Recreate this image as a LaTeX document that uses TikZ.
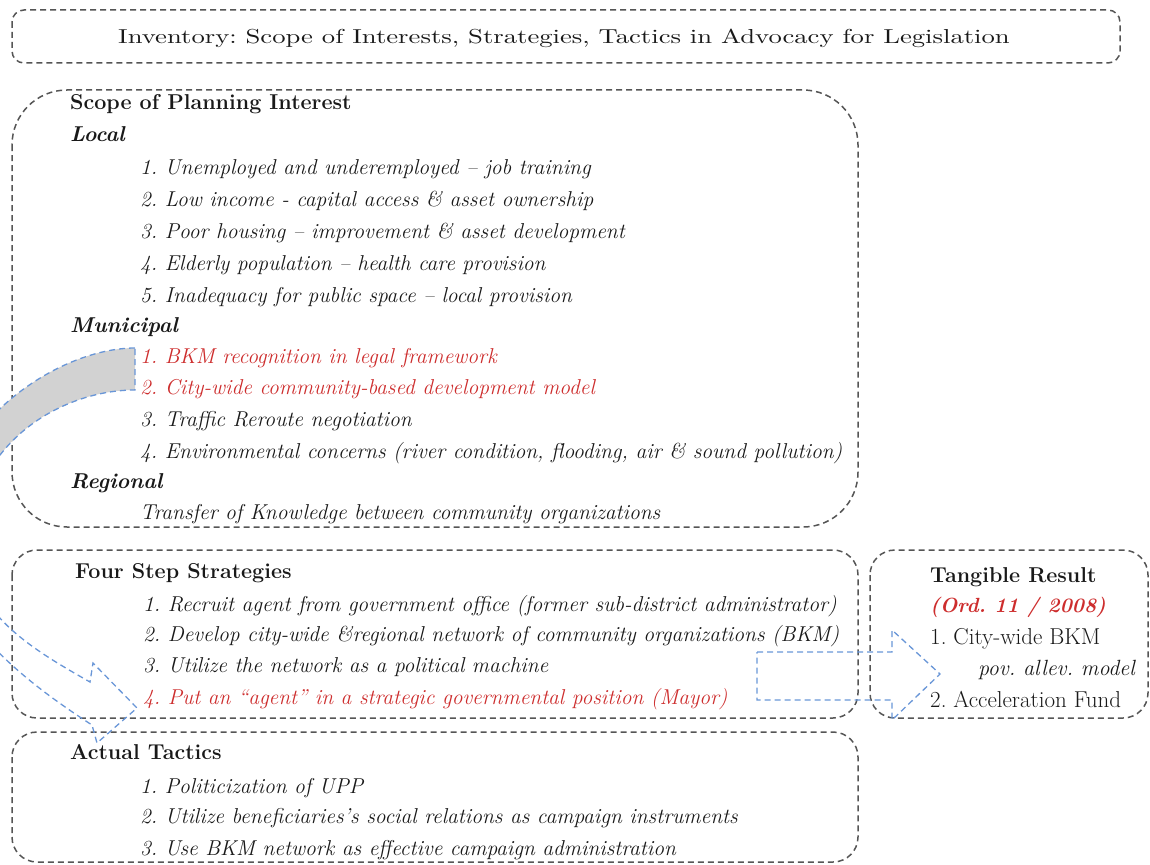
\documentclass[tikz,border=0pt]{standalone}
\usepackage{fontspec}
\usepackage{tikz}
\newfontfamily\titlefont{lmroman10-regular}[Extension=.otf, FakeStretch=1.32]
\definecolor{boxgray}{RGB}{85,85,85}
\definecolor{hotred}{RGB}{205,45,45}
\definecolor{arrowblue}{RGB}{105,150,215}
\definecolor{arrowfill}{RGB}{210,210,210}
\frenchspacing

\begin{document}
\begin{tikzpicture}[x=1pt, y=-1pt,
  every node/.style={font=\fontsize{23}{27}\selectfont, inner sep=0pt, anchor=base west, text=black!90},
  frame/.style={draw=boxgray, line width=1.5pt, dash pattern=on 6pt off 4pt},
  blockarrow/.style={draw=arrowblue, line width=1.3pt, dash pattern=on 6pt off 4pt},
  head/.style={font=\fontsize{21.5}{25}\selectfont\bfseries},
  sub/.style={font=\fontsize{21.5}{25}\selectfont\bfseries\itshape},
  item/.style={font=\fontsize{21.5}{25}\selectfont\itshape},
  hot/.style={item, text=hotred}]
  \useasboundingbox (0,0) rectangle (1150,864);
  \clip (0,0) rectangle (1150,864);

  % Frames
  \draw[frame, rounded corners=12pt] (12,10) rectangle (1120,63);
  \draw[frame, rounded corners=55pt] (12,90) rectangle (858,527);
  \draw[frame, rounded corners=25pt] (12,550) rectangle (858,718);
  \draw[frame, rounded corners=25pt] (12,732) rectangle (858,862);
  \draw[frame, rounded corners=25pt] (870,550) rectangle (1148,718);

  % Curved arrow from municipal items down to the tactics
  \fill[arrowfill] (135,348) .. controls (60,348) and (-50,420) .. (-60,525)
    -- (-30,545) .. controls (-30,445) and (60,390) .. (135,390) -- cycle;
  \draw[blockarrow] (135,348) .. controls (60,348) and (-50,420) .. (-60,525)
    .. controls (-62,610) and (10,672) .. (92,725) -- (97,743) -- (137,708)
    -- (93,663) -- (90,682) .. controls (30,648) and (-30,612) .. (-30,545)
    .. controls (-30,445) and (60,390) .. (135,390) -- cycle;

  % Block arrow to the result
  \draw[blockarrow] (757,652) -- (892,652) -- (892,630) -- (940,674)
    -- (892,720) -- (892,700) -- (757,700) -- cycle;

  % Title
  \node[anchor=base, font=\titlefont\fontsize{20.2}{24}\selectfont] (title) at (564,44)
    {Inventory: Scope of Interests, Strategies, Tactics in Advocacy for Legislation};

  % Scope of planning interest
  \node[head] (scope) at (70,110) {Scope of Planning Interest};
  \node[sub] (local) at (70,142) {Local};
  \node[item] (loc1) at (140,174) {1. Unemployed and underemployed – job training};
  \node[item] (loc2) at (140,206) {2. Low income - capital access \& asset ownership};
  \node[item] (loc3) at (140,238) {3. Poor housing – improvement \& asset development};
  \node[item] (loc4) at (140,270) {4. Elderly population – health care provision};
  \node[item] (loc5) at (140,302) {5. Inadequacy for public space – local provision};
  \node[sub] (municipal) at (70,332) {Municipal};
  \node[hot] (mun1) at (140,363) {1. BKM recognition in legal framework};
  \node[hot] (mun2) at (140,394) {2. City-wide community-based development model};
  \node[item] (mun3) at (140,426) {3. Traffic Reroute negotiation};
  \node[item] (mun4) at (140,458) {4. Environmental concerns (river condition, flooding, air \& sound pollution)};
  \node[sub] (regional) at (70,488) {Regional};
  \node[item] (reg1) at (140,519) {Transfer of Knowledge between community organizations};

  % Four step strategies
  \node[head] (strategies) at (75,578) {Four Step Strategies};
  \node[item] (str1) at (143,611) {1. Recruit agent from government office (former sub-district administrator)};
  \node[item] (str2) at (143,641) {2. Develop city-wide \&regional network of community organizations (BKM)};
  \node[item] (str3) at (143,672) {3. Utilize the network as a political machine};
  \node[hot] (str4) at (143,704) {4. Put an “agent” in a strategic governmental position (Mayor)};

  % Actual tactics
  \node[head] (tactics) at (70,759) {Actual Tactics};
  \node[item] (tac1) at (140,793) {1. Politicization of UPP};
  \node[item] (tac2) at (140,823) {2. Utilize beneficiaries’s social relations as campaign instruments};
  \node[item] (tac3) at (140,855) {3. Use BKM network as effective campaign administration};

  % Tangible result
  \node[head] (result) at (930,582) {Tangible Result};
  \node[sub, font=\fontsize{20.5}{24}\selectfont\bfseries\itshape, text=hotred] (ord) at (930,612) {(Ord. 11 / 2008)};
  \node (res1) at (930,644) {1. City-wide BKM};
  \node[item, font=\fontsize{22}{26}\selectfont\itshape, anchor=base east] (res1b) at (1135,675) {pov. allev. model};
  \node (res2) at (930,707) {2. Acceleration Fund};
\end{tikzpicture}
\end{document}
